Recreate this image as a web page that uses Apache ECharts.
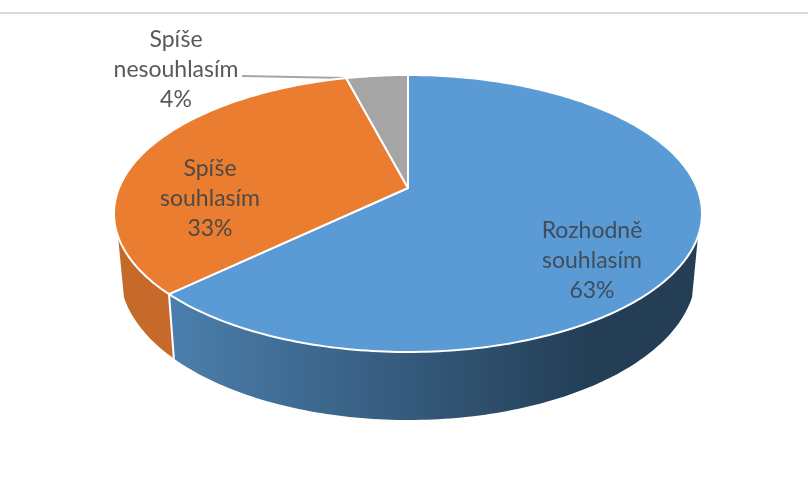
<!DOCTYPE html>
<html>
<head>
<meta charset="utf-8">
<style>
    html, body { margin: 0; padding: 0; background: #fff; }
    #main { width: 808px; height: 477px; }
</style>
<script src="https://cdn.jsdelivr.net/npm/echarts@6/dist/echarts.min.js"></script>
</head>
<body>
<div id="main"></div>
<script>
var names = ['Rozhodně\nsouhlasím', 'Spíše\nsouhlasím', 'Spíše\nnesouhlasím']
var values = [63, 33, 4]
var colors = ['#5B9BD5', '#EB7D31', '#A5A5A5']
var label_colors = ['#404d5c', '#4f4a45', '#595959']
var label_at = [[592, 261], [210, 199], [176, 70]]

// the pie is a tilted disc: top face, and a lower rim ellipse
var top_face = {cx: 408, cy: 213.5, rx: 294, ry: 138.5}
var low_face = {cx: 408, cy: 273, rx: 288, ry: 147}
// perspective moves the centre of the disc up, this much of ry
var shift = 0.17
var apex = {x: 408, y: 188}
// only this part of the rim can be seen (degrees clockwise from top)
var rim_from = 109
var rim_to = 251

var total = values.reduce(function(a, b) { return a + b }, 0)

function start_angle(i) {
    var sum = 0
    for (var k = 0; k < i; k++) {
        sum += values[k]
    }
    return sum / total * 360
}

function rim_point(face, deg) {
    var t = deg * Math.PI / 180
    var x = Math.sin(t)
    var y = -Math.cos(t)
    var k = 1 - shift * y
    return [
        face.cx + face.rx * x * Math.sqrt(1 - shift * shift) / k,
        face.cy + face.ry * (y - shift) / k
    ]
}

function arc_points(face, from, to) {
    var list = []
    var steps = Math.max(2, Math.ceil(Math.abs(to - from)))
    for (var s = 0; s <= steps; s++) {
        list.push(rim_point(face, from + (to - from) * s / steps))
    }
    return list
}

function wall_fill(i) {
    if (i == 0) {
        return new echarts.graphic.LinearGradient(0, 0, 1, 0, [
            {offset: 0, color: '#4b7fac'},
            {offset: 0.45, color: '#355a7c'},
            {offset: 0.8, color: '#233e55'},
            {offset: 1, color: '#233e55'}
        ])
    }
    return new echarts.graphic.LinearGradient(0, 0, 1, 0, [
        {offset: 0, color: '#c46a2b'},
        {offset: 1, color: '#c8692a'}
    ])
}

function render_wall(params) {
    var i = params.dataIndex
    var from = Math.max(start_angle(i), rim_from)
    var to = Math.min(start_angle(i + 1), rim_to)
    if (to <= from) {
        return
    }
    var pts = arc_points(top_face, from, to).concat(arc_points(low_face, to, from))
    return {
        type: 'polygon',
        shape: {points: pts},
        style: {fill: wall_fill(i), stroke: null}
    }
}

function render_seam(params) {
    // white line between the side walls
    var i = params.dataIndex
    var deg = start_angle(i + 1)
    if (deg <= rim_from || deg >= rim_to) {
        return
    }
    var a = rim_point(top_face, deg)
    var b = rim_point(low_face, deg)
    return {
        type: 'line',
        shape: {x1: a[0], y1: a[1], x2: b[0], y2: b[1]},
        style: {stroke: '#fff', lineWidth: 2}
    }
}

function render_face(params) {
    var i = params.dataIndex
    var pts = [[apex.x, apex.y]].concat(arc_points(top_face, start_angle(i), start_angle(i + 1)))
    return {
        type: 'polygon',
        shape: {points: pts},
        style: {fill: colors[i], stroke: '#fff', lineWidth: 2, lineJoin: 'round'}
    }
}

function render_leader(params) {
    // only the small slice has its label outside the pie
    if (params.dataIndex != 2) {
        return
    }
    var p = rim_point(top_face, start_angle(2))
    return {
        type: 'line',
        shape: {x1: 242, y1: 76, x2: p[0], y2: p[1]},
        style: {stroke: '#A5A5A5', lineWidth: 2}
    }
}

function render_label(params) {
    var i = params.dataIndex
    return {
        type: 'text',
        x: label_at[i][0],
        y: label_at[i][1],
        style: {
            text: names[i] + '\n' + values[i] + '%',
            x: 0,
            y: 0,
            align: 'center',
            verticalAlign: 'middle',
            font: '23px Lato',
            lineHeight: 30,
            fill: label_colors[i]
        }
    }
}

function layer(fn, z) {
    return {
        type: 'custom',
        coordinateSystem: 'none',
        renderItem: fn,
        data: values,
        silent: true,
        animation: false,
        clip: false,
        z: z
    }
}

var myChart = echarts.init(document.getElementById('main'))
var option = {
    backgroundColor: '#fff',
    animation: false,
    graphic: [
        {
            type: 'rect',
            shape: {x: 0, y: 12, width: 808, height: 2},
            style: {fill: '#d9d9d9'},
            silent: true
        }
    ],
    series: [
        layer(render_wall, 1),
        layer(render_seam, 2),
        layer(render_leader, 3),
        layer(render_face, 4),
        layer(render_label, 5)
    ]
}
myChart.setOption(option)
</script>
</body>
</html>
